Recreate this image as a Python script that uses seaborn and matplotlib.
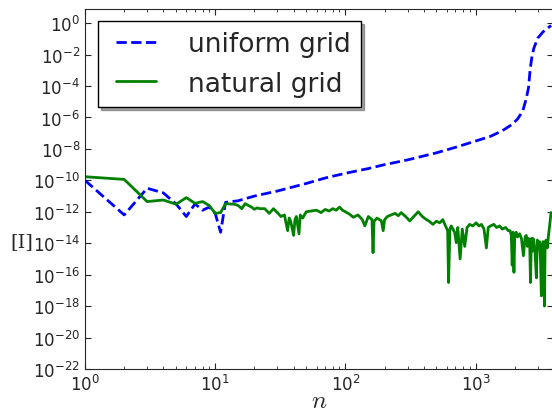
import numpy as np
import pandas as pd
import matplotlib
matplotlib.use('Agg')
import matplotlib.pyplot as plt
from matplotlib.legend_handler import HandlerLine2D
from matplotlib.lines import Line2D
import seaborn as sns

sns.set_style('ticks')
plt.rcParams.update({
    'font.family': ['DejaVu Sans'],
    'mathtext.fontset': 'cm',
    'xtick.direction': 'in',
    'ytick.direction': 'in',
    'xtick.top': True,
    'ytick.right': True,
})

# uniform grid: n and log10 of the error
uniform_n = [1, 2, 3, 4, 5, 6, 7, 8, 9, 10, 11, 12, 15, 20, 30, 50, 70, 100, 150,
             200, 300, 500, 700, 1000, 1300, 1600, 1900, 2100, 2300, 2450, 2550,
             2620, 2700, 2800, 3000, 3300, 3800]
uniform_log = [-10.0, -12.2, -10.5, -10.8, -11.5, -12.3, -11.5, -11.9, -11.7, -12.1,
               -13.3, -11.4, -11.3, -11.0, -10.68, -10.2, -9.85, -9.55, -9.25,
               -9.0, -8.7, -8.25, -7.9, -7.5, -7.2, -6.85, -6.45, -6.1, -5.6, -4.8,
               -4.1, -3.0, -2.2, -1.6, -0.95, -0.55, -0.15]

# natural grid
natural_n = [1, 2, 3, 4, 5, 6, 7, 8, 9, 10, 11, 12, 13, 14, 15, 16, 17, 18, 19, 20,
             21, 22, 24, 26, 28, 30, 32, 34, 36, 37, 38, 40, 41, 42, 44, 45, 47, 50,
             55, 60, 65, 70, 75, 80, 85, 90, 95, 100, 108, 115, 125, 135, 141, 150,
             160, 163, 166, 175, 189, 195, 200, 210, 225, 240, 255, 268, 290, 312,
             335, 362, 390, 420, 440, 470, 500, 530, 560, 580, 595, 610, 620, 635,
             650, 670, 690, 710, 730, 760, 790, 825, 860, 900, 950, 1010, 1060,
             1110, 1160, 1210, 1250, 1300, 1380, 1450, 1530, 1600, 1700, 1780,
             1840, 1880, 1910, 1940, 1970, 2000, 2050, 2100, 2180, 2250, 2330,
             2400, 2450, 2500, 2560, 2600, 2640, 2680, 2720, 2760, 2800, 2860,
             2930, 2980, 3050, 3100, 3150, 3200, 3250, 3300, 3340, 3380, 3420,
             3480, 3550, 3620, 3700, 3800]
natural_log = [-9.77, -9.94, -11.35, -11.25, -11.52, -11.1, -11.46, -11.35, -11.6,
               -12.1, -12.05, -11.48, -11.5, -11.52, -11.6, -11.8, -11.48, -11.6,
               -11.7, -11.84, -11.75, -11.8, -11.8, -12.1, -11.8, -12.05, -12.3,
               -12.2, -13.2, -12.4, -12.6, -13.5, -12.5, -12.3, -13.4, -12.2, -12.4,
               -12.0, -11.95, -11.9, -12.05, -11.85, -11.95, -11.8, -11.9, -11.7,
               -11.9, -12.0, -12.16, -12.35, -12.2, -12.5, -12.9, -12.3, -12.5,
               -14.6, -12.6, -12.4, -12.58, -13.2, -12.5, -12.3, -12.2, -12.1,
               -12.25, -12.05, -12.3, -12.58, -12.3, -12.0, -12.3, -12.5, -12.6,
               -12.8, -12.6, -12.7, -12.5, -12.8, -13.0, -13.2, -16.5, -13.1, -12.9,
               -13.1, -13.3, -13.96, -13.0, -15.0, -13.1, -14.2, -13.0, -12.8,
               -12.9, -12.7, -12.9, -12.8, -13.1, -14.3, -13.0, -12.9, -12.8, -13.0,
               -12.9, -13.1, -13.0, -13.2, -13.2, -13.5, -15.4, -13.3, -15.85, -13.4,
               -13.3, -13.6, -13.4, -13.7, -14.8, -13.6, -13.5, -14.2, -13.7, -13.8,
               -16.5, -13.7, -14.5, -13.7, -13.9, -14.6, -16.2, -13.8, -14.3, -13.9,
               -15.0, -17.35, -14.2, -13.9, -15.2, -18.0, -14.0, -13.8, -14.3, -13.6,
               -12.9, -12.05]

uni = pd.DataFrame({'n': uniform_n, 'err': 10.0 ** np.array(uniform_log)})
nat = pd.DataFrame({'n': natural_n, 'err': 10.0 ** np.array(natural_log)})

fig = plt.figure(figsize=(5.52, 4.14), dpi=100)
ax = fig.add_axes([85 / 552, 1 - 370 / 414, (553 - 85) / 552, 360 / 414])

sns.lineplot(data=uni, x='n', y='err', color='b', linestyle='--', lw=2,
             estimator=None, sort=False, ax=ax, label='uniform grid')
sns.lineplot(data=nat, x='n', y='err', color='g', lw=2,
             estimator=None, sort=False, ax=ax, label='natural grid')

ax.set_xscale('log')
ax.set_yscale('log')
ax.set_xlim(1, 10 ** (468 / 130.2))
ax.set_ylim(1e-22, 10 ** 0.9)
ax.set_yticks([10.0 ** k for k in range(-22, 1, 2)])
ax.yaxis.set_minor_locator(matplotlib.ticker.NullLocator())
ax.tick_params(labelsize=12, length=4)
ax.tick_params(which='minor', length=2)

ax.set_xlabel('$n$', fontsize=18, labelpad=-4)
ax.set_ylabel('[I]', family='serif', fontsize=14, rotation=0, va='center')
ax.yaxis.set_label_coords(-0.135, 0.356)

leg = ax.legend(loc='upper left', bbox_to_anchor=(0.028, 0.967), borderaxespad=0,
                fontsize=19, fancybox=False, shadow=True, frameon=True,
                handlelength=1.78, handletextpad=1.22, edgecolor='black',
                handler_map={Line2D: HandlerLine2D(xpad=0.27)})
leg.get_frame().set_linewidth(1.0)
leg.get_frame().set_alpha(1)

fig.savefig('out.png', dpi=100)
